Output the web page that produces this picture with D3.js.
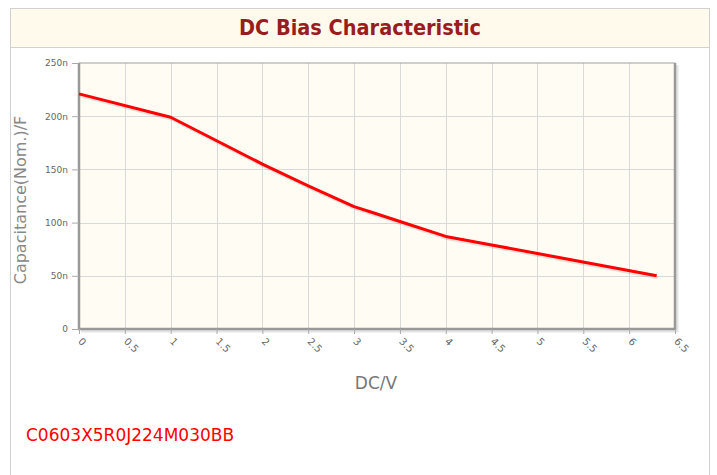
<!DOCTYPE html>
<html>
<head>
<meta charset="utf-8">
<script src="https://cdn.jsdelivr.net/npm/d3@7"></script>
<style>
  body { margin: 0; background: #fff; }
  #chart { width: 717px; height: 475px; }
</style>
</head>
<body>
<div id="chart"></div>
<script>
// DC bias curve, volts vs capacitance in nF
const voltage = [0, 1, 2, 2.5, 3, 3.2, 3.5, 4, 4.5, 5, 6.3];
const capacitance = [221, 199, 155, 134.5, 115, 109.5, 101, 87, 79, 71, 50];
const xTicks = [0, 0.5, 1, 1.5, 2, 2.5, 3, 3.5, 4, 4.5, 5, 5.5, 6, 6.5];
const yTicks = [0, 50, 100, 150, 200, 250];
const titleText = 'DC Bias Characteristic';
const partNumber = 'C0603X5R0J224M030BB';

const W = 717, H = 475;
const margin = { top: 63, right: 42, bottom: 146, left: 79 };
const width = W - margin.left - margin.right;
const height = H - margin.top - margin.bottom;

const svg = d3.select('#chart').append('svg')
  .attr('width', W)
  .attr('height', H);

// outer frame + title band
svg.append('rect')
  .attr('x', 10.5).attr('y', 8.5)
  .attr('width', 699).attr('height', 500)
  .attr('fill', '#fff')
  .attr('stroke', '#d0d0d0');

svg.append('rect')
  .attr('x', 10.5).attr('y', 8.5)
  .attr('width', 699).attr('height', 39)
  .attr('fill', '#fffaec')
  .attr('stroke', '#d0d0d0');

svg.append('text')
  .attr('x', 360)
  .attr('y', 35)
  .attr('text-anchor', 'middle')
  .style('font-family', '"DejaVu Sans Condensed", "DejaVu Sans", sans-serif')
  .style('font-weight', 'bold')
  .style('font-size', '21.5px')
  .style('fill', '#9a1c1f')
  .text(titleText);

const g = svg.append('g')
  .attr('transform', `translate(${margin.left},${margin.top})`);

const x = d3.scaleLinear().domain([0, 6.5]).range([0, width]);
const y = d3.scaleLinear().domain([0, 250]).range([height, 0]);

// plot background
g.append('rect')
  .attr('width', width)
  .attr('height', height)
  .attr('fill', '#fffcf3');

// grid
g.selectAll('.vgrid')
  .data(xTicks.slice(1, -1))
  .join('line')
  .attr('x1', d => Math.round(x(d)) + 0.5)
  .attr('x2', d => Math.round(x(d)) + 0.5)
  .attr('y1', 0).attr('y2', height)
  .attr('stroke', '#d9d9d9');

g.selectAll('.hgrid')
  .data(yTicks.slice(1, -1))
  .join('line')
  .attr('y1', d => Math.round(y(d)) + 0.5)
  .attr('y2', d => Math.round(y(d)) + 0.5)
  .attr('x1', 0).attr('x2', width)
  .attr('stroke', '#d9d9d9');

// frame shadow
g.append('path')
  .attr('d', `M${width + 2},2 V${height + 2} H2`)
  .attr('fill', 'none')
  .attr('stroke', '#e4e4e4')
  .attr('stroke-width', 3);

// frame
g.append('rect')
  .attr('width', width)
  .attr('height', height)
  .attr('fill', 'none')
  .attr('stroke', '#a0a0a0')
  .attr('stroke-width', 1);

g.append('path')
  .attr('d', `M0,0 V${height} H${width} V0`)
  .attr('fill', 'none')
  .attr('stroke', '#999')
  .attr('stroke-width', 2.5);

// axes
const yAxis = d3.axisLeft(y)
  .tickValues(yTicks)
  .tickSize(7)
  .tickPadding(4)
  .tickFormat(d => d === 0 ? '0' : d + 'n');

const yg = g.append('g').call(yAxis);
yg.select('.domain').remove();
yg.selectAll('line').attr('stroke', '#aaa');
yg.selectAll('text')
  .style('font-family', '"DejaVu Sans", sans-serif')
  .style('font-size', '9px')
  .style('fill', '#666');

const xAxis = d3.axisBottom(x)
  .tickValues(xTicks)
  .tickSize(5)
  .tickFormat(d => String(d));

const xg = g.append('g')
  .attr('transform', `translate(0,${height})`)
  .call(xAxis);
xg.select('.domain').remove();
xg.selectAll('line').attr('stroke', '#aaa');
xg.selectAll('text')
  .attr('text-anchor', 'start')
  .attr('x', 0)
  .attr('y', 0)
  .attr('dy', 0)
  .attr('transform', 'translate(-2,13) rotate(45)')
  .style('font-family', '"DejaVu Sans", sans-serif')
  .style('font-size', '10px')
  .style('fill', '#666');

// curve
const line = d3.line()
  .x((d, i) => x(voltage[i]))
  .y(d => y(d));

g.append('path')
  .datum(capacitance)
  .attr('fill', 'none')
  .attr('stroke', 'rgba(0,0,0,0.1)')
  .attr('stroke-width', 3)
  .attr('transform', 'translate(1,2)')
  .attr('d', line);

g.append('path')
  .datum(capacitance)
  .attr('fill', 'none')
  .attr('stroke', '#ff0000')
  .attr('stroke-width', 3)
  .attr('stroke-linejoin', 'round')
  .attr('d', line);

// axis titles
svg.append('text')
  .attr('transform', `translate(26,${margin.top + height / 2 + 4}) rotate(-90)`)
  .attr('text-anchor', 'middle')
  .style('font-family', '"DejaVu Sans", sans-serif')
  .style('font-size', '16px')
  .style('fill', '#888')
  .text('Capacitance(Nom.)/F');

svg.append('text')
  .attr('x', 376)
  .attr('y', 389)
  .attr('text-anchor', 'middle')
  .style('font-family', '"DejaVu Sans", sans-serif')
  .style('font-size', '17px')
  .style('fill', '#777')
  .text('DC/V');

svg.append('text')
  .attr('x', 26)
  .attr('y', 441)
  .style('font-family', '"DejaVu Sans", sans-serif')
  .style('font-size', '17px')
  .style('fill', '#ff0000')
  .text(partNumber);
</script>
</body>
</html>
